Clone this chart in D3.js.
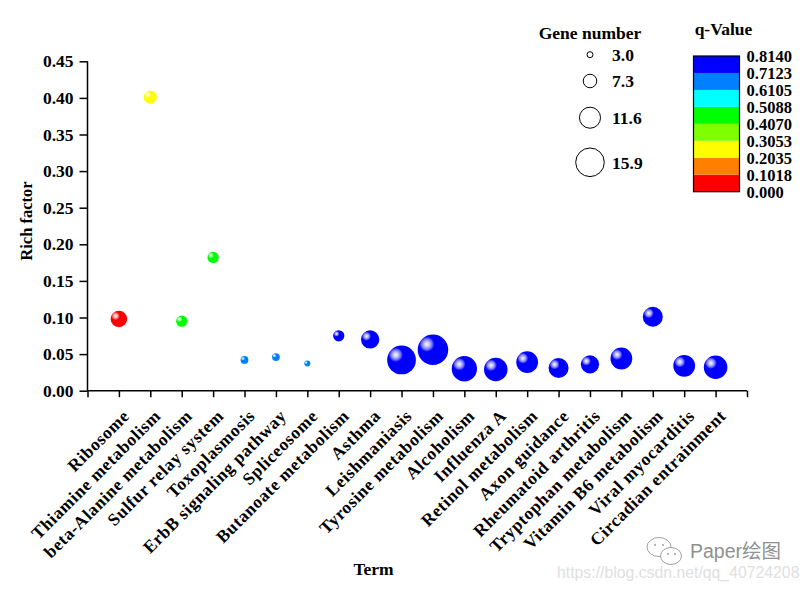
<!DOCTYPE html>
<html><head><meta charset="utf-8">
<script src="https://cdn.jsdelivr.net/npm/d3@7"></script>
<style>
body{margin:0;background:#fff;}
svg text{font-family:"Liberation Serif","Times New Roman",serif;font-weight:bold;}
</style></head><body>
<svg id="chart" width="810" height="589"></svg>
<script>
// ---------- data ----------
const categories = ["Ribosome","Thiamine metabolism","beta-Alanine metabolism","Sulfur relay system",
  "Toxoplasmosis","ErbB signaling pathway","Spliceosome","Butanoate metabolism","Asthma",
  "Leishmaniasis","Tyrosine metabolism","Alcoholism","Influenza A","Retinol metabolism",
  "Axon guidance","Rheumatoid arthritis","Tryptophan metabolism","Vitamin B6 metabolism",
  "Viral myocarditis","Circadian entrainment"];
const richFactor = [0.098,0.401,0.095,0.182,0.042,0.046,0.037,0.075,0.070,0.042,
  0.056,0.030,0.029,0.039,0.031,0.036,0.044,0.101,0.034,0.032];
const geneNumber = [9,7,6,6,4,4,3,6,10,16,17,14,13,12,11,10,12,11,12,13];
const qValue = [0.03,0.26,0.45,0.45,0.66,0.66,0.66,0.79,0.79,0.79,
  0.79,0.79,0.79,0.79,0.79,0.79,0.79,0.79,0.79,0.79];
const yTicks = [0,0.05,0.10,0.15,0.20,0.25,0.30,0.35,0.40,0.45];
const sizeLegendValues = [3.0,7.3,11.6,15.9];
const qBreaks = [0.000,0.1018,0.2035,0.3053,0.4070,0.5088,0.6105,0.7123,0.8140];
const qLabels = ["0.000","0.1018","0.2035","0.3053","0.4070","0.5088","0.6105","0.7123","0.8140"];
const qColors = ["#FF0000","#FF8000","#FFFF00","#80FF00","#00FF00","#00FFFF","#0080FF","#0000FF"];

// ---------- scales ----------
const svg = d3.select("#chart");
const x = d3.scaleLinear().domain([0, categories.length + 1]).range([87.5, 747]);
const y = d3.scaleLinear().domain([0, 0.45]).range([390.7, 61.3]);
const r = d3.scaleLinear().domain([3, 15.9]).range([3, 14.3]);
const color = d3.scaleThreshold().domain(qBreaks.slice(1, -1)).range(qColors);

// gradients
const defs = svg.append("defs");
qColors.forEach((c, i) => {
  const g = defs.append("radialGradient").attr("id", "g" + i)
    .attr("cx", 0.3).attr("cy", 0.32).attr("r", 0.5).attr("fx", 0.3).attr("fy", 0.32);
  const mix = d3.interpolateRgb(c, "#ffffff");
  g.append("stop").attr("offset", 0).attr("stop-color", mix(0.97));
  g.append("stop").attr("offset", 0.15).attr("stop-color", mix(0.8));
  g.append("stop").attr("offset", 0.34).attr("stop-color", mix(0.45));
  g.append("stop").attr("offset", 0.5).attr("stop-color", c);
  g.append("stop").attr("offset", 1).attr("stop-color", c);
});

// ---------- axes ----------
const yAxis = d3.axisLeft(y).tickValues(yTicks).tickFormat(d3.format(".2f")).tickSize(8).tickPadding(6);
const gy = svg.append("g").attr("transform", "translate(87.5,0)").call(yAxis);
gy.select(".domain").attr("d", `M0,${y(0.45)}V${y(0)}`);
gy.selectAll("path,line").attr("stroke", "#000").attr("stroke-width", 1.5);
gy.selectAll("text").style("font-size", "17.5px").style("fill", "#000");

const xAxis = d3.axisBottom(x).tickValues(d3.range(0, categories.length + 2)).tickSize(6.5).tickFormat("");
const gx = svg.append("g").attr("transform", "translate(0,390.7)").call(xAxis);
gx.select(".domain").attr("d", `M${x(0)},0H${x(categories.length + 1)}`);
gx.selectAll("path,line").attr("stroke", "#000").attr("stroke-width", 1.5);

// x labels
svg.append("g").selectAll("text").data(categories).join("text")
  .attr("transform", (d, i) => `translate(${x(i + 1) + 11.5},417) rotate(-45)`)
  .attr("text-anchor", "end")
  .style("font-size", "17.5px").style("letter-spacing", "0.6px").style("fill", "#000")
  .text(d => d);

// axis titles
svg.append("text").attr("transform", "translate(32,221) rotate(-90)")
  .attr("text-anchor", "middle").style("font-size", "16.5px").style("fill", "#000").text("Rich factor");
svg.append("text").attr("x", 373.5).attr("y", 575)
  .attr("text-anchor", "middle").style("font-size", "17.5px").style("fill", "#000").text("Term");

// ---------- bubbles ----------
svg.append("g").selectAll("circle").data(categories).join("circle")
  .attr("cx", (d, i) => x(i + 1))
  .attr("cy", (d, i) => y(richFactor[i]))
  .attr("r", (d, i) => r(geneNumber[i]))
  .attr("fill", (d, i) => `url(#g${qColors.indexOf(color(qValue[i]))})`);

// ---------- size legend ----------
svg.append("text").attr("x", 590).attr("y", 39).attr("text-anchor", "middle")
  .style("font-size", "17.5px").style("fill", "#000").text("Gene number");
const sizeY = [54.7, 81, 117.7, 162.3];
const sl = svg.append("g").selectAll("g").data(sizeLegendValues).join("g");
sl.append("circle").attr("cx", 590).attr("cy", (d, i) => sizeY[i]).attr("r", d => r(d))
  .attr("fill", "none").attr("stroke", "#000").attr("stroke-width", 1);
sl.append("text").attr("x", 612).attr("y", (d, i) => sizeY[i] + 6.2).style("font-size", "17.5px")
  .style("fill", "#000").text(d => d.toFixed(1));

// ---------- colour legend ----------
svg.append("text").attr("x", 723.5).attr("y", 35).attr("text-anchor", "middle")
  .style("font-size", "17.5px").style("fill", "#000").text("q-Value");
const cb = d3.scaleLinear().domain([0, 8]).range([191.7, 56]);
svg.append("g").selectAll("rect").data(qColors).join("rect")
  .attr("x", 693.5).attr("width", 46)
  .attr("y", (d, i) => cb(i + 1)).attr("height", (d, i) => cb(i) - cb(i + 1))
  .attr("fill", d => d);
svg.append("rect").attr("x", 693.5).attr("y", 56).attr("width", 46).attr("height", 191.7 - 56)
  .attr("fill", "none").attr("stroke", "#000").attr("stroke-width", 1.2);
svg.append("g").selectAll("text").data(qLabels).join("text")
  .attr("x", 746.5).attr("y", (d, i) => cb(i) + 5.8).style("font-size", "16.5px")
  .style("fill", "#000").text(d => d);

// ---------- watermark ----------
const wm = svg.append("g").attr("fill", "none").attr("stroke", "#a0a0a0").attr("stroke-width", 1);
wm.append("ellipse").attr("cx", 659).attr("cy", 547).attr("rx", 12).attr("ry", 9.5);
wm.append("ellipse").attr("cx", 671).attr("cy", 556).attr("rx", 10.5).attr("ry", 8.5).attr("fill", "#fff");
[[655,545],[663,545],[668,554],[675,554]].forEach(p =>
  wm.append("circle").attr("cx", p[0]).attr("cy", p[1]).attr("r", 1).attr("fill", "#a0a0a0").attr("stroke", "none"));
svg.append("text").attr("x", 690).attr("y", 558)
  .style("font-family", "'Liberation Sans','Noto Sans CJK SC',sans-serif").style("font-weight", "normal")
  .style("font-size", "19.5px").style("fill", "#909090").text("Paper绘图");
svg.append("text").attr("x", 557).attr("y", 578)
  .style("font-family", "'Liberation Sans',Arial,sans-serif").style("font-weight", "normal")
  .style("font-size", "15.8px").style("fill", "#e0e0e0").text("https://blog.csdn.net/qq_40724208");
</script>
</body></html>
